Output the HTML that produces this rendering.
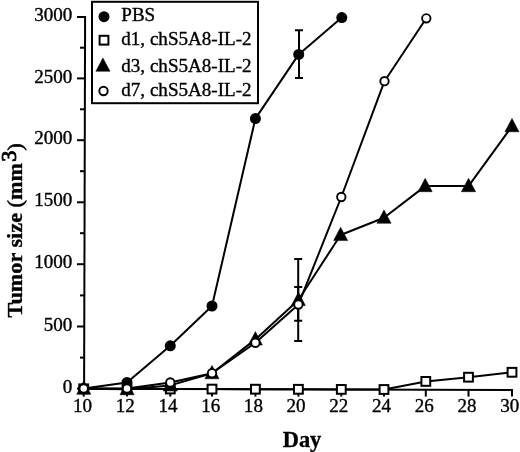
<!DOCTYPE html><html><head><meta charset="utf-8"><style>html,body{margin:0;padding:0;background:#fff;width:520px;height:452px;overflow:hidden}svg{display:block;filter:grayscale(1)}text{font-family:"Liberation Serif",serif;fill:#000;stroke:#000;stroke-width:0.35px}</style></head><body>
<svg width="520" height="452" viewBox="0 0 520 452">
<g stroke="#000" stroke-width="2" fill="none">
<path d="M85.1,16L84.1,390"/>
<path d="M83.2,388.7L513,389.9"/>
<path d="M77,17H85"/>
<path d="M77,78.4H85"/>
<path d="M77,140.2H85"/>
<path d="M77,202.3H85"/>
<path d="M77,264.2H85"/>
<path d="M77,326.5H85"/>
<path d="M77,388.6H85"/>
<path d="M80,47.7H85"/>
<path d="M80,109.3H85"/>
<path d="M80,171.2H85"/>
<path d="M80,233.2H85"/>
<path d="M80,295.4H85"/>
<path d="M80,357.6H85"/>
<path d="M83.7,388.70V396.6"/>
<path d="M127.0,388.82V396.6"/>
<path d="M170.3,388.94V396.6"/>
<path d="M212.0,389.06V396.6"/>
<path d="M255.4,389.18V396.6"/>
<path d="M298.4,389.30V396.6"/>
<path d="M341.3,389.42V396.6"/>
<path d="M384.0,389.54V396.6"/>
<path d="M425.8,389.66V396.6"/>
<path d="M468.5,389.78V396.6"/>
<path d="M512.0,389.90V396.6"/>
</g>
<text transform="translate(72.30,21.10) scale(1.06,1)" font-size="18" text-anchor="end">3000</text>
<text transform="translate(72.30,82.50) scale(1.06,1)" font-size="18" text-anchor="end">2500</text>
<text transform="translate(72.30,144.30) scale(1.06,1)" font-size="18" text-anchor="end">2000</text>
<text transform="translate(72.30,206.40) scale(1.06,1)" font-size="18" text-anchor="end">1500</text>
<text transform="translate(72.30,268.30) scale(1.06,1)" font-size="18" text-anchor="end">1000</text>
<text transform="translate(72.30,330.60) scale(1.06,1)" font-size="18" text-anchor="end">500</text>
<text transform="translate(72.30,392.70) scale(1.06,1)" font-size="18" text-anchor="end">0</text>
<text transform="translate(82.50,412.00) scale(1.06,1)" font-size="18" text-anchor="middle">10</text>
<text transform="translate(125.22,412.00) scale(1.06,1)" font-size="18" text-anchor="middle">12</text>
<text transform="translate(167.94,412.00) scale(1.06,1)" font-size="18" text-anchor="middle">14</text>
<text transform="translate(210.66,412.00) scale(1.06,1)" font-size="18" text-anchor="middle">16</text>
<text transform="translate(253.38,412.00) scale(1.06,1)" font-size="18" text-anchor="middle">18</text>
<text transform="translate(296.10,412.00) scale(1.06,1)" font-size="18" text-anchor="middle">20</text>
<text transform="translate(338.82,412.00) scale(1.06,1)" font-size="18" text-anchor="middle">22</text>
<text transform="translate(381.54,412.00) scale(1.06,1)" font-size="18" text-anchor="middle">24</text>
<text transform="translate(424.26,412.00) scale(1.06,1)" font-size="18" text-anchor="middle">26</text>
<text transform="translate(466.98,412.00) scale(1.06,1)" font-size="18" text-anchor="middle">28</text>
<text transform="translate(509.70,412.00) scale(1.06,1)" font-size="18" text-anchor="middle">30</text>
<text transform="translate(302,446.6) scale(0.975,1)" font-size="23" font-weight="bold" text-anchor="middle">Day</text>
<text transform="translate(22.3,317.4) rotate(-90) scale(1.06,1)" font-size="21" font-weight="bold">Tumor size <tspan font-weight="normal" style="stroke-width:0.6px">(</tspan>mm<tspan dx="1" dy="-6.5" font-weight="normal" style="stroke-width:0.9px">3</tspan><tspan dy="6.5" font-weight="normal" style="stroke-width:0.6px">)</tspan></text>
<g stroke="#000" stroke-width="2">
<path d="M299.0,30.3V78.1M295.0,30.3H303.0M295.0,78.1H303.0"/>
<path d="M298.2,259V341M294.2,259H302.2M294.2,341H302.2"/>
<path d="M298.2,287V320.7M294.2,287H302.2M294.2,320.7H302.2"/>
</g>
<g stroke="#000" stroke-width="2" fill="none" stroke-linejoin="round">
<polyline points="83.7,388.6 127.0,382.5 170.3,345.8 212.0,306.0 255.4,118.6 298.7,54.4 341.8,17.6"/>
<polyline points="83.7,388.8 127.0,388.9 170.3,389.0 212.0,389.1 255.4,389.2 298.4,389.3 341.3,389.4 384.0,389.5 425.8,381.4 468.5,377.2 512.0,372.3"/>
<polyline points="83.7,388.7 127.0,389.2 170.3,385.4 212.0,373.2 255.4,339.4 298.4,300.0 340.6,235.0 384.0,217.7 425.2,186.1 468.5,186.1 512.0,126.2"/>
<polyline points="83.7,388.6 127.0,388.6 170.3,382.4 212.0,373.2 255.4,342.8 298.4,304.6 341.3,197.0 384.5,81.2 426.3,18.3"/>
</g>
<circle cx="83.7" cy="388.6" r="5.5" fill="#000"/>
<circle cx="127.0" cy="382.5" r="5.5" fill="#000"/>
<circle cx="170.3" cy="345.8" r="5.5" fill="#000"/>
<circle cx="212.0" cy="306.0" r="5.5" fill="#000"/>
<circle cx="255.4" cy="118.6" r="5.5" fill="#000"/>
<circle cx="298.7" cy="54.4" r="5.5" fill="#000"/>
<circle cx="341.8" cy="17.6" r="5.5" fill="#000"/>
<rect x="79.3" y="384.4" width="8.8" height="8.8" fill="#fff" stroke="#000" stroke-width="2"/>
<rect x="122.6" y="384.5" width="8.8" height="8.8" fill="#fff" stroke="#000" stroke-width="2"/>
<rect x="165.9" y="384.6" width="8.8" height="8.8" fill="#fff" stroke="#000" stroke-width="2"/>
<rect x="207.6" y="384.7" width="8.8" height="8.8" fill="#fff" stroke="#000" stroke-width="2"/>
<rect x="251.0" y="384.8" width="8.8" height="8.8" fill="#fff" stroke="#000" stroke-width="2"/>
<rect x="294.0" y="384.9" width="8.8" height="8.8" fill="#fff" stroke="#000" stroke-width="2"/>
<rect x="336.9" y="385.0" width="8.8" height="8.8" fill="#fff" stroke="#000" stroke-width="2"/>
<rect x="379.6" y="385.1" width="8.8" height="8.8" fill="#fff" stroke="#000" stroke-width="2"/>
<rect x="421.4" y="377.0" width="8.8" height="8.8" fill="#fff" stroke="#000" stroke-width="2"/>
<rect x="464.1" y="372.8" width="8.8" height="8.8" fill="#fff" stroke="#000" stroke-width="2"/>
<rect x="507.6" y="367.9" width="8.8" height="8.8" fill="#fff" stroke="#000" stroke-width="2"/>
<path d="M83.7,380.9L90.8,394.3H76.7Z" fill="#000" stroke="#000" stroke-width="0.5" stroke-linejoin="round"/>
<path d="M127.0,381.4L134.1,394.8H120.0Z" fill="#000" stroke="#000" stroke-width="0.5" stroke-linejoin="round"/>
<path d="M170.3,377.6L177.4,391.0H163.2Z" fill="#000" stroke="#000" stroke-width="0.5" stroke-linejoin="round"/>
<path d="M212.0,365.4L219.1,378.8H204.9Z" fill="#000" stroke="#000" stroke-width="0.5" stroke-linejoin="round"/>
<path d="M255.4,331.6L262.4,345.0H248.3Z" fill="#000" stroke="#000" stroke-width="0.5" stroke-linejoin="round"/>
<path d="M298.4,292.2L305.4,305.6H291.3Z" fill="#000" stroke="#000" stroke-width="0.5" stroke-linejoin="round"/>
<path d="M340.6,227.2L347.7,240.6H333.6Z" fill="#000" stroke="#000" stroke-width="0.5" stroke-linejoin="round"/>
<path d="M384.0,209.9L391.1,223.3H376.9Z" fill="#000" stroke="#000" stroke-width="0.5" stroke-linejoin="round"/>
<path d="M425.2,178.3L432.2,191.7H418.1Z" fill="#000" stroke="#000" stroke-width="0.5" stroke-linejoin="round"/>
<path d="M468.5,178.3L475.6,191.7H461.4Z" fill="#000" stroke="#000" stroke-width="0.5" stroke-linejoin="round"/>
<path d="M512.0,118.4L519.0,131.8H504.9Z" fill="#000" stroke="#000" stroke-width="0.5" stroke-linejoin="round"/>
<circle cx="83.7" cy="388.6" r="4.2" fill="#fff" stroke="#000" stroke-width="1.9"/>
<circle cx="127.0" cy="388.6" r="4.2" fill="#fff" stroke="#000" stroke-width="1.9"/>
<circle cx="170.3" cy="382.4" r="4.2" fill="#fff" stroke="#000" stroke-width="1.9"/>
<circle cx="212.0" cy="373.2" r="4.2" fill="#fff" stroke="#000" stroke-width="1.9"/>
<circle cx="255.4" cy="342.8" r="4.2" fill="#fff" stroke="#000" stroke-width="1.9"/>
<circle cx="298.4" cy="304.6" r="4.2" fill="#fff" stroke="#000" stroke-width="1.9"/>
<circle cx="341.3" cy="197.0" r="4.2" fill="#fff" stroke="#000" stroke-width="1.9"/>
<circle cx="384.5" cy="81.2" r="4.2" fill="#fff" stroke="#000" stroke-width="1.9"/>
<circle cx="426.3" cy="18.3" r="4.2" fill="#fff" stroke="#000" stroke-width="1.9"/>
<rect x="92" y="1.8" width="166" height="101.4" fill="#fff" stroke="#000" stroke-width="2"/>
<circle cx="104.0" cy="16.7" r="5.5" fill="#000"/>
<rect x="99.6" y="35.8" width="8.8" height="8.8" fill="#fff" stroke="#000" stroke-width="2"/>
<path d="M102.9,57.9L110.0,71.3H95.9Z" fill="#000" stroke="#000" stroke-width="0.5" stroke-linejoin="round"/>
<circle cx="103.5" cy="91.0" r="4.2" fill="#fff" stroke="#000" stroke-width="1.9"/>
<text transform="translate(121.30,20.90) scale(1.06,1)" font-size="18" text-anchor="start">PBS</text>
<text transform="translate(121.30,44.90) scale(1.06,1)" font-size="18" text-anchor="start">d1, chS5A8-IL-2</text>
<text transform="translate(121.30,71.90) scale(1.06,1)" font-size="18" text-anchor="start">d3, chS5A8-IL-2</text>
<text transform="translate(121.30,95.80) scale(1.06,1)" font-size="18" text-anchor="start">d7, chS5A8-IL-2</text>
</svg></body></html>
